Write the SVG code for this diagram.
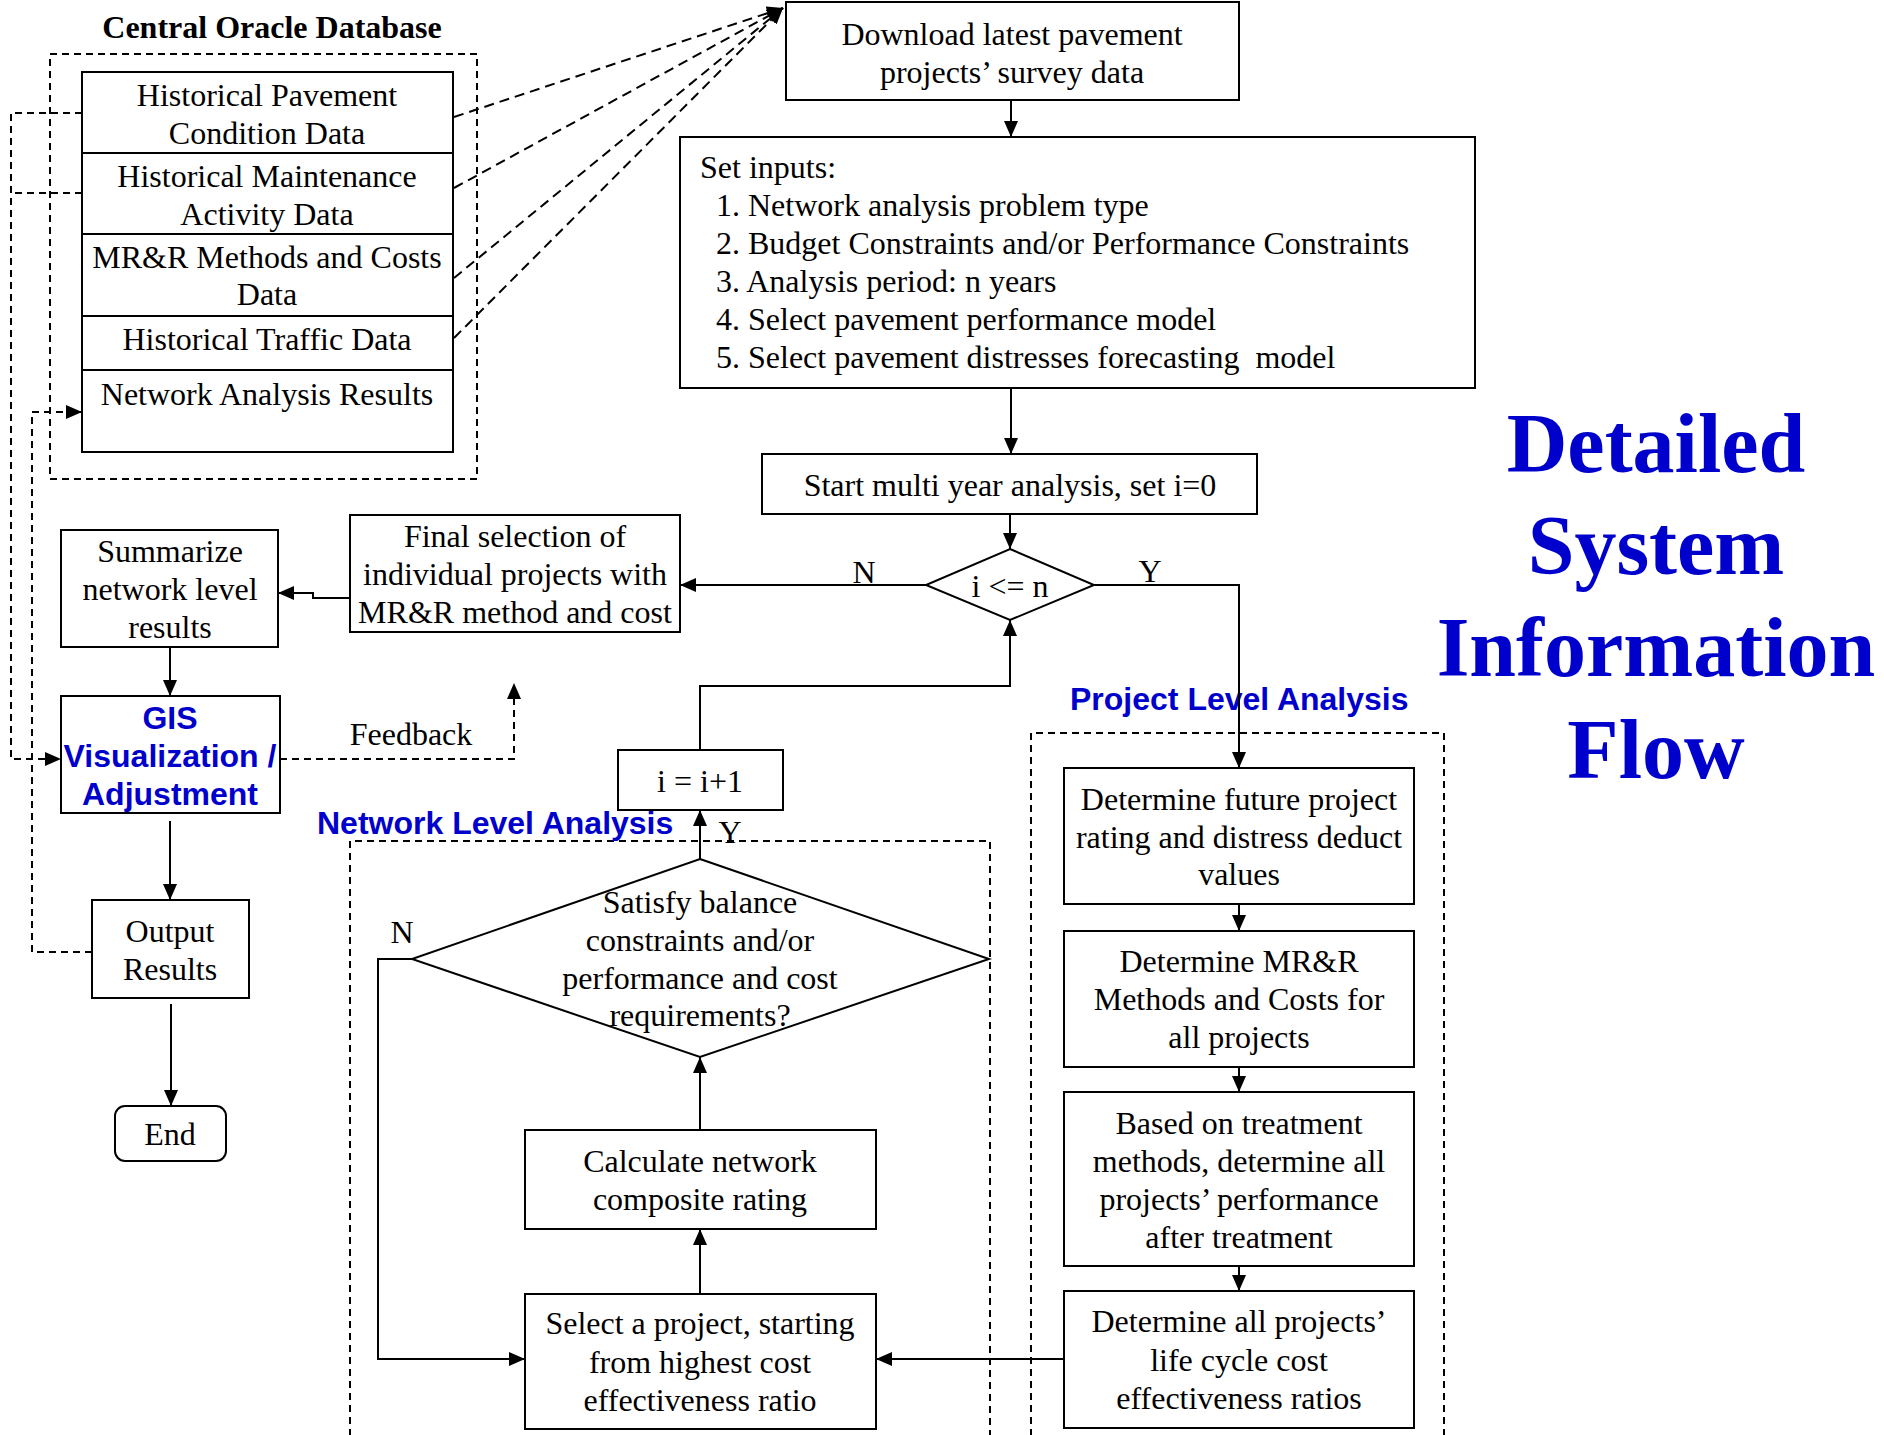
<svg xmlns="http://www.w3.org/2000/svg" width="1884" height="1435" viewBox="0 0 1884 1435">
<style>
.bg{fill:#fff}
.box{fill:#fff;stroke:#000;stroke-width:2}
.nofill{fill:none;stroke:#000;stroke-width:2}
.dashbox{fill:none;stroke:#000;stroke-width:2;stroke-dasharray:7 5}
.t{font-family:"Liberation Serif","Times New Roman",serif;font-size:32px;fill:#000;text-anchor:middle}
.tl{font-family:"Liberation Serif","Times New Roman",serif;font-size:32px;fill:#000;white-space:pre}
.tb{font-family:"Liberation Serif","Times New Roman",serif;font-size:32px;font-weight:bold;fill:#000;text-anchor:middle}
.blue{font-family:"Liberation Sans",Arial,sans-serif;font-size:32px;font-weight:bold;fill:#0000CC}
.title{font-family:"Liberation Serif","Times New Roman",serif;font-size:84px;font-weight:bold;fill:#0000CC;text-anchor:middle}
.c{fill:none;stroke:#000;stroke-width:2}
.cd{fill:none;stroke:#000;stroke-width:2;stroke-dasharray:7 5}
.cd2{fill:none;stroke:#000;stroke-width:2;stroke-dasharray:10 6}
</style>
<defs>
<marker id="ah" markerUnits="userSpaceOnUse" viewBox="0 0 16 14" markerWidth="16" markerHeight="14" refX="16" refY="7" orient="auto">
<path d="M0,0 L16,7 L0,14 z" fill="#000"/>
</marker>
</defs>
<rect class="bg" x="0" y="0" width="1884" height="1435"/>

<g id="regions">
<rect class="dashbox" x="50" y="54" width="427" height="425"/>
<path class="dashbox" d="M350,1436 V841 H990 V1436"/>
<path class="dashbox" d="M1031,1436 V733 H1444 V1436"/>
<text class="tb" x="272" y="38">Central Oracle Database</text>
<text class="blue" x="317" y="834">Network Level Analysis</text>
<text class="blue" x="1070" y="710">Project Level Analysis</text>
</g>

<g id="title">
<text class="title" x="1656" y="472">Detailed</text>
<text class="title" x="1656" y="574">System</text>
<text class="title" x="1656" y="676">Information</text>
<text class="title" x="1656" y="778">Flow</text>
</g>

<g id="db-pavement">
<rect class="box" x="82" y="72" width="371" height="81"/>
<text class="t" x="267" y="106">Historical Pavement</text>
<text class="t" x="267" y="144">Condition Data</text>
</g>
<g id="db-maintenance">
<rect class="box" x="82" y="153" width="371" height="81"/>
<text class="t" x="267" y="187">Historical Maintenance</text>
<text class="t" x="267" y="225">Activity Data</text>
</g>
<g id="db-mrr">
<rect class="box" x="82" y="234" width="371" height="82"/>
<text class="t" x="267" y="268">MR&amp;R Methods and Costs</text>
<text class="t" x="267" y="305">Data</text>
</g>
<g id="db-traffic">
<rect class="box" x="82" y="316" width="371" height="54"/>
<text class="t" x="267" y="350">Historical Traffic Data</text>
</g>
<g id="db-results">
<rect class="box" x="82" y="370" width="371" height="82"/>
<text class="t" x="267" y="405">Network Analysis Results</text>
</g>

<g id="download">
<rect class="box" x="786" y="2" width="453" height="98"/>
<text class="t" x="1012" y="45">Download latest pavement</text>
<text class="t" x="1012" y="83">projects’ survey data</text>
</g>

<g id="set-inputs">
<rect class="box" x="680" y="137" width="795" height="251"/>
<text class="tl" x="700" y="178">Set inputs:</text>
<text class="tl" x="716" y="216">1. Network analysis problem type</text>
<text class="tl" x="716" y="254">2. Budget Constraints and/or Performance Constraints</text>
<text class="tl" x="716" y="292">3. Analysis period: n years</text>
<text class="tl" x="716" y="330">4. Select pavement performance model</text>
<text class="tl" x="716" y="368">5. Select pavement distresses forecasting  model</text>
</g>

<g id="start">
<rect class="box" x="762" y="454" width="495" height="60"/>
<text class="t" x="1010" y="496">Start multi year analysis, set i=0</text>
</g>

<g id="decision-i">
<polygon class="box" points="1010,549 1094,585 1010,620 926,585"/>
<text class="t" x="1010" y="597">i &lt;= n</text>
</g>

<g id="final-selection">
<rect class="box" x="350" y="515" width="330" height="117"/>
<text class="t" x="515" y="547">Final selection of</text>
<text class="t" x="515" y="585">individual projects with</text>
<text class="t" x="515" y="623">MR&amp;R method and cost</text>
</g>

<g id="summarize">
<rect class="box" x="61" y="530" width="217" height="117"/>
<text class="t" x="170" y="562">Summarize</text>
<text class="t" x="170" y="600">network level</text>
<text class="t" x="170" y="638">results</text>
</g>

<g id="gis">
<rect class="box" x="61" y="696" width="219" height="117"/>
<text class="blue" x="170" y="729" text-anchor="middle">GIS</text>
<text class="blue" x="170" y="767" text-anchor="middle">Visualization /</text>
<text class="blue" x="170" y="805" text-anchor="middle">Adjustment</text>
</g>

<g id="output">
<rect class="box" x="92" y="900" width="157" height="98"/>
<text class="t" x="170" y="942">Output</text>
<text class="t" x="170" y="980">Results</text>
</g>

<g id="end">
<rect class="box" x="115" y="1106" width="111" height="55" rx="10" ry="10"/>
<text class="t" x="170" y="1145">End</text>
</g>

<g id="increment">
<rect class="box" x="618" y="750" width="165" height="60"/>
<text class="t" x="700" y="792">i = i+1</text>
</g>

<g id="decision-satisfy">
<polygon class="box" points="700,859 989,959 700,1057 412,959"/>
<text class="t" x="700" y="913">Satisfy balance</text>
<text class="t" x="700" y="951">constraints and/or</text>
<text class="t" x="700" y="989">performance and cost</text>
<text class="t" x="700" y="1026">requirements?</text>
</g>

<g id="calculate">
<rect class="box" x="525" y="1130" width="351" height="99"/>
<text class="t" x="700" y="1172">Calculate network</text>
<text class="t" x="700" y="1210">composite rating</text>
</g>

<g id="select-project">
<rect class="box" x="525" y="1294" width="351" height="135"/>
<text class="t" x="700" y="1334">Select a project, starting</text>
<text class="t" x="700" y="1373">from highest cost</text>
<text class="t" x="700" y="1411">effectiveness ratio</text>
</g>

<g id="future-rating">
<rect class="box" x="1064" y="768" width="350" height="136"/>
<text class="t" x="1239" y="810">Determine future project</text>
<text class="t" x="1239" y="848">rating and distress deduct</text>
<text class="t" x="1239" y="885">values</text>
</g>

<g id="mrr-methods">
<rect class="box" x="1064" y="931" width="350" height="136"/>
<text class="t" x="1239" y="972">Determine MR&amp;R</text>
<text class="t" x="1239" y="1010">Methods and Costs for</text>
<text class="t" x="1239" y="1048">all projects</text>
</g>

<g id="performance">
<rect class="box" x="1064" y="1092" width="350" height="174"/>
<text class="t" x="1239" y="1134">Based on treatment</text>
<text class="t" x="1239" y="1172">methods, determine all</text>
<text class="t" x="1239" y="1210">projects’ performance</text>
<text class="t" x="1239" y="1248">after treatment</text>
</g>

<g id="lifecycle">
<rect class="box" x="1064" y="1291" width="350" height="137"/>
<text class="t" x="1239" y="1332">Determine all projects’</text>
<text class="t" x="1239" y="1371">life cycle cost</text>
<text class="t" x="1239" y="1409">effectiveness ratios</text>
</g>

<g id="connectors">
<path class="c" d="M1011,100 V137" marker-end="url(#ah)"/>
<path class="c" d="M1011,388 V454" marker-end="url(#ah)"/>
<path class="c" d="M1010,514 V549" marker-end="url(#ah)"/>
<path class="c" d="M926,585 H680" marker-end="url(#ah)"/>
<path class="c" d="M350,598 H313 V593 H278" marker-end="url(#ah)"/>
<path class="c" d="M1094,585 H1239 V768" marker-end="url(#ah)"/>
<path class="c" d="M170,647 V696" marker-end="url(#ah)"/>
<path class="c" d="M170,821 V900" marker-end="url(#ah)"/>
<path class="c" d="M171,1004 V1106" marker-end="url(#ah)"/>
<path class="cd" d="M280,759 H514 V683" marker-end="url(#ah)"/>
<path class="cd" d="M82,113 H11 V759 H61" marker-end="url(#ah)"/>
<path class="cd" d="M82,193 H11"/>
<path class="cd" d="M92,952 H32 V412 H82" marker-end="url(#ah)"/>
<path class="cd2" d="M454,117 L783,8" marker-end="url(#ah)"/>
<path class="cd2" d="M454,188 L783,8" marker-end="url(#ah)"/>
<path class="cd2" d="M454,278 L783,8" marker-end="url(#ah)"/>
<path class="cd2" d="M454,338 L783,8" marker-end="url(#ah)"/>
<path class="c" d="M1239,904 V931" marker-end="url(#ah)"/>
<path class="c" d="M1239,1067 V1092" marker-end="url(#ah)"/>
<path class="c" d="M1239,1266 V1291" marker-end="url(#ah)"/>
<path class="c" d="M1064,1359 H876" marker-end="url(#ah)"/>
<path class="c" d="M700,1294 V1229" marker-end="url(#ah)"/>
<path class="c" d="M700,1130 V1057" marker-end="url(#ah)"/>
<path class="c" d="M700,859 V810" marker-end="url(#ah)"/>
<path class="c" d="M700,750 V686 H1010 V620" marker-end="url(#ah)"/>
<path class="c" d="M412,959 H378 V1359 H525" marker-end="url(#ah)"/>
<text class="t" x="864" y="583">N</text>
<text class="t" x="1150" y="582">Y</text>
<text class="t" x="411" y="745">Feedback</text>
<text class="t" x="402" y="943">N</text>
<text class="t" x="730" y="843">Y</text>
</g>
</svg>
